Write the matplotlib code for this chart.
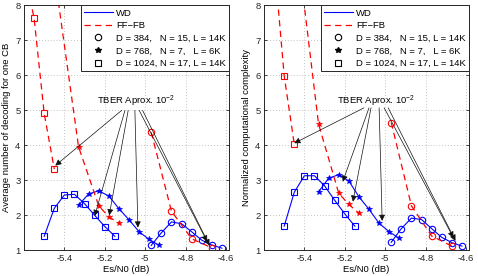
import matplotlib
matplotlib.use("Agg")
import matplotlib.pyplot as plt
from matplotlib.lines import Line2D

plt.rcParams['font.family'] = ['Liberation Sans', 'DejaVu Sans']
plt.rcParams['mathtext.fontset'] = 'custom'
plt.rcParams['mathtext.rm'] = 'Liberation Sans'
plt.rcParams['mathtext.it'] = 'Liberation Sans'
plt.rcParams['mathtext.default'] = 'regular'
plt.rcParams['axes.unicode_minus'] = False

# ---------------- data ----------------
# WD (solid blue)
x_sq_wd = [-5.5, -5.45, -5.4, -5.35, -5.3, -5.25, -5.2, -5.15]
avg_sq_wd = [1.4, 2.2, 2.58, 2.6, 2.33, 2.0, 1.68, 1.4]
cmp_sq_wd = [1.69, 2.66, 3.13, 3.13, 2.84, 2.43, 2.04, 1.69]

x_st_wd = [-5.33, -5.28, -5.23, -5.18, -5.13, -5.08, -5.03, -4.98, -4.93]
avg_st_wd = [2.29, 2.61, 2.70, 2.55, 2.19, 1.87, 1.53, 1.31, 1.14]
cmp_st_wd = [2.67, 3.06, 3.16, 2.98, 2.53, 2.17, 1.77, 1.53, 1.34]

x_ci_wd = [-4.97, -4.92, -4.87, -4.82, -4.77, -4.72, -4.67, -4.62]
avg_ci_wd = [1.14, 1.50, 1.81, 1.76, 1.53, 1.29, 1.15, 1.06]
cmp_ci_wd = [1.23, 1.62, 1.92, 1.88, 1.62, 1.37, 1.22, 1.12]

# FF-FB (dashed red)
x_sq_ff = [-5.6, -5.55, -5.5, -5.45]
avg_sq_ff = [9.0, 7.63, 4.91, 3.32]
cmp_sq_ff = [11.0, 9.3, 5.98, 4.03]

x_st_ff = [-5.43, -5.33, -5.23, -5.18, -5.13]
avg_st_ff = [8.1, 3.96, 2.27, 1.96, 1.77]
cmp_st_ff = [9.4, 4.61, 2.63, 2.31, 2.06]

x_ci_ff = [-4.97, -4.87, -4.77, -4.67]
avg_ci_ff = [4.37, 2.12, 1.33, 1.07]
cmp_ci_ff = [4.65, 2.27, 1.41, 1.12]

x_ticks = [-5.4, -5.2, -5.0, -4.8, -4.6]
x_tick_labels = ['-5.4', '-5.2', '-5', '-4.8', '-4.6']
y_ticks = [1, 2, 3, 4, 5, 6, 7, 8]

legend_labels = ['WD', 'FF\u2212FB',
                 'D = 384,   N = 15, L = 14K',
                 'D = 768,   N = 7,   L = 6K',
                 'D = 1024, N = 17, L = 14K']
annot_text = r'TBER Aprox. 10$^{-2}$'

# annotation arrows (tail, tips) per panel
left_tails_x = [-5.116, -5.100, -5.084, -5.051, -5.030, -5.013]
left_tail_y = 5.0
left_tips = [(-5.445, 3.42), (-5.25, 1.98), (-5.178, 2.0), (-5.036, 1.65),
             (-4.693, 1.25), (-4.682, 1.14)]
right_tails_x = [-5.105, -5.080, -5.070, -5.030, -5.005, -4.985]
right_tail_y = 5.07
right_tips = [(-5.45, 4.06), (-5.21, 2.96), (-5.16, 2.39), (-5.015, 1.84),
              (-4.662, 1.36), (-4.652, 1.27)]

FS = 6.8
BLUE = '#0000ff'
RED = '#ff0000'

fig = plt.figure(figsize=(4.78, 2.76), dpi=100)
W, H = 478.0, 276.0
ax1 = fig.add_axes([24 / W, 1 - 250.3 / H, 205 / W, 245 / H])
ax2 = fig.add_axes([264 / W, 1 - 250.3 / H, 205 / W, 245 / H])


def draw(ax, ysq_wd, yst_wd, yci_wd, ysq_ff, yst_ff, yci_ff, ylabel,
         tails_x, tail_y, tips):
    mk = dict(markersize=4.6, markerfacecolor='none', markeredgewidth=0.8)
    ax.plot(x_sq_wd, ysq_wd, '-', color=BLUE, lw=0.8, marker='s', markeredgecolor=BLUE, **mk)
    ax.plot(x_st_wd, yst_wd, '-', color=BLUE, lw=0.8, marker='*', markersize=3.8,
            markerfacecolor=BLUE, markeredgecolor=BLUE, markeredgewidth=0.5)
    ax.plot(x_ci_wd, yci_wd, '-', color=BLUE, lw=0.8, marker='o', markeredgecolor=BLUE, **mk)

    dash = dict(ls=(0, (5, 3.5)), lw=0.9, color=RED)
    ax.plot(x_sq_ff, ysq_ff, marker='s', markeredgecolor=RED, **dash, **mk)
    ax.plot(x_st_ff, yst_ff, marker='*', markersize=3.8, markerfacecolor=RED,
            markeredgecolor=RED, markeredgewidth=0.5, **dash)
    ax.plot(x_ci_ff, yci_ff, marker='o', markeredgecolor=RED, **dash, **mk)

    ax.set_xlim(-5.6, -4.585)
    ax.set_ylim(1, 8)
    ax.set_xticks(x_ticks)
    ax.set_xticklabels(x_tick_labels)
    ax.set_yticks(y_ticks)
    ax.tick_params(direction='in', length=2.5, width=0.6, labelsize=FS,
                   top=True, right=True, pad=2.5, colors='#262626')
    ax.grid(True, ls=(0, (1, 2.5)), lw=0.6, color='#b0b0b0')
    for s in ax.spines.values():
        s.set_linewidth(0.7)
        s.set_color('#262626')
    ax.set_xlabel('Es/N0 (dB)', fontsize=FS, labelpad=1.5)
    ax.set_ylabel(ylabel, fontsize=FS, labelpad=3)

    # annotations
    ax.text(-5.045, 5.18, annot_text, fontsize=FS, ha='center', va='baseline', zorder=6)
    for tx, (px, py) in zip(tails_x, tips):
        ax.annotate('', xy=(px, py), xytext=(tx, tail_y),
                    arrowprops=dict(arrowstyle='-|>', color='#111111', lw=0.5,
                                    mutation_scale=9, shrinkA=0, shrinkB=0),
                    zorder=6)

    handles = [
        Line2D([], [], color=BLUE, lw=0.8),
        Line2D([], [], color=RED, lw=0.9, ls=(0, (5, 3.5))),
        Line2D([], [], ls='none', marker='o', color='k', markerfacecolor='none',
               markersize=4.6, markeredgewidth=0.8),
        Line2D([], [], ls='none', marker='*', color='k', markersize=3.8),
        Line2D([], [], ls='none', marker='s', color='k', markerfacecolor='none',
               markersize=4.6, markeredgewidth=0.8),
    ]
    leg = ax.legend(handles, legend_labels, loc='upper right',
                    bbox_to_anchor=(1.0, 1.0), borderaxespad=0, fontsize=FS,
                    frameon=True, fancybox=False, edgecolor='#262626',
                    framealpha=1, handlelength=3.0, handletextpad=0.35,
                    labelspacing=0.38, borderpad=0.35)
    leg.get_frame().set_linewidth(0.7)
    leg.set_zorder(10)


draw(ax1, avg_sq_wd, avg_st_wd, avg_ci_wd, avg_sq_ff, avg_st_ff, avg_ci_ff,
     'Average number of decoding for one CB', left_tails_x, left_tail_y, left_tips)
draw(ax2, cmp_sq_wd, cmp_st_wd, cmp_ci_wd, cmp_sq_ff, cmp_st_ff, cmp_ci_ff,
     'Normalized computational complexity', right_tails_x, right_tail_y, right_tips)

fig.savefig('out.png', dpi=100)
